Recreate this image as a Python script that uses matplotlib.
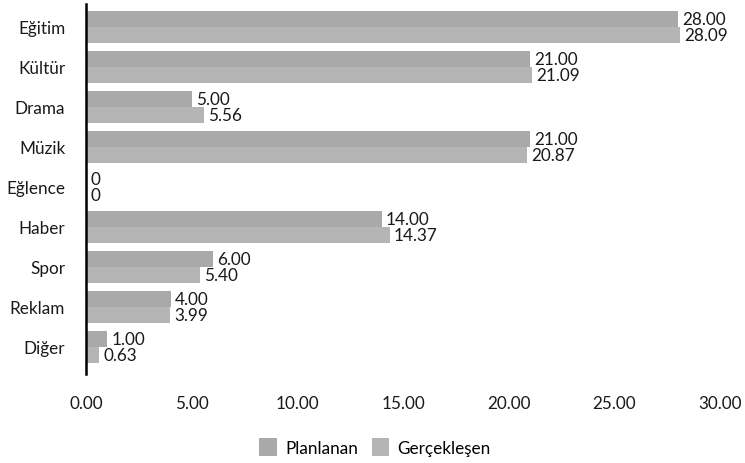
import matplotlib
matplotlib.use("Agg")
import matplotlib.pyplot as plt
import numpy as np

plt.rcParams['font.family'] = ['Lato', 'DejaVu Sans']

# datos
kategoriler = ["Eğitim", "Kültür", "Drama", "Müzik", "Eğlence", "Haber", "Spor", "Reklam", "Diğer"]
planlanan = [28.00, 21.00, 5.00, 21.00, 0, 14.00, 6.00, 4.00, 1.00]
gerceklesen = [28.09, 21.09, 5.56, 20.87, 0, 14.37, 5.40, 3.99, 0.63]
x_ticks = [0, 5, 10, 15, 20, 25, 30]

fig = plt.figure(figsize=(7.45, 4.64), dpi=100)
ax = fig.add_axes([86/745, 1 - 375/464, (720 - 86)/745, 370/464])

y = np.arange(len(kategoriler))
h = 0.4
b1 = ax.barh(y - h/2, planlanan, height=h, color="#a9a9a9", label="Planlanan")
b2 = ax.barh(y + h/2, gerceklesen, height=h, color="#b5b5b5", label="Gerçekleşen")

def etiket(v):
    return "0" if v == 0 else f"{v:.2f}"

fs = 12.3
for barlar, vals in [(b1, planlanan), (b2, gerceklesen)]:
    for rect, v in zip(barlar, vals):
        ax.text(rect.get_width() + 0.2, rect.get_y() + rect.get_height()/2, etiket(v),
                va="center", ha="left", fontsize=fs, color="#1a1a1a")

ax.set_xlim(0, 30)
ax.set_ylim(8.675, -0.575)
ax.set_yticks(y)
ax.set_yticklabels(kategoriler, fontsize=fs)
ax.set_xticks(x_ticks)
ax.set_xticklabels([f"{t:.2f}" for t in x_ticks], fontsize=fs)
ax.tick_params(axis='both', length=0, labelcolor="#1a1a1a")
ax.tick_params(axis='x', pad=15)
ax.tick_params(axis='y', pad=15)

for s in ["top", "right", "bottom"]:
    ax.spines[s].set_visible(False)
ax.spines["left"].set_linewidth(1.8)
ax.spines["left"].set_color("black")

fig.legend(handles=[b1, b2], loc="center", bbox_to_anchor=(375/745, 1 - 448/464),
           ncol=2, frameon=False, fontsize=fs, handlelength=1.0, handleheight=1.2,
           columnspacing=0.8, handletextpad=0.5)

fig.savefig("out.png", dpi=100)
